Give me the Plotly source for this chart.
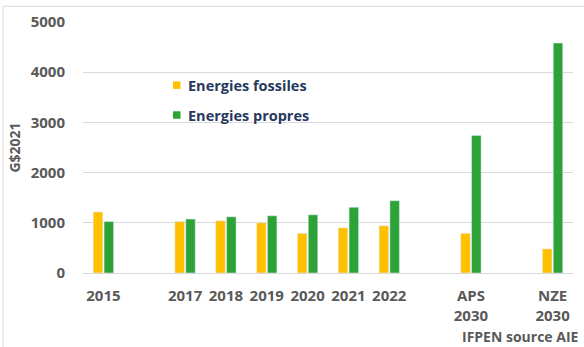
import plotly.graph_objects as go

# Investment in energy, billions of 2021 dollars
categories = ["2015", "2017", "2018", "2019", "2020", "2021", "2022", "APS 2030", "NZE 2030"]
tick_labels = ["2015", "2017", "2018", "2019", "2020", "2021", "2022", "APS<br>2030", "NZE<br>2030"]
fossiles = [1215, 1025, 1040, 1000, 790, 900, 940, 790, 480]
propres = [1025, 1075, 1120, 1140, 1160, 1310, 1440, 2740, 4580]
series_names = ["Energies fossiles", "Energies propres"]

# category order with empty slots between the periods
axis_order = ["2015", "gap_a", "2017", "2018", "2019", "2020", "2021", "2022",
              "gap_b", "APS 2030", "gap_c", "NZE 2030"]

YELLOW = "#FFC000"
GREEN = "#2DA337"
GRID = "#D9D9D9"
TXT = "#595959"
NAVY = "#26395E"
FONT = "Open Sans"

W, H = 584, 347
ML, MR, MT, MB = 83, 11, 18, 74
PW, PH = W - ML - MR, H - MT - MB


def px_x(px):
    """pixel column -> paper x"""
    return (px - ML) / PW


def px_y(py):
    """pixel row -> paper y"""
    return (H - MB - py) / PH


fig = go.Figure()
fig.add_trace(go.Bar(x=categories, y=fossiles, name=series_names[0],
                     marker_color=YELLOW, showlegend=False))
fig.add_trace(go.Bar(x=categories, y=propres, name=series_names[1],
                     marker_color=GREEN, showlegend=False))

fig.update_layout(
    width=W, height=H,
    margin=dict(l=ML, r=MR, t=MT, b=MB),
    paper_bgcolor="white", plot_bgcolor="white",
    barmode="group", bargap=0.47, bargroupgap=0.12,
    font=dict(family=FONT, color=TXT, size=15),
)

fig.update_xaxes(
    type="category", categoryorder="array", categoryarray=axis_order,
    tickvals=categories, ticktext=tick_labels,
    showgrid=False, showline=False, zeroline=False,
    ticks="outside", ticklen=9, tickcolor="rgba(0,0,0,0)",
    tickfont=dict(family=FONT, color=TXT, size=15, weight="bold"),
)
fig.update_yaxes(
    range=[0, 5000], tickvals=[0, 1000, 2000, 3000, 4000, 5000],
    showgrid=True, gridcolor=GRID, gridwidth=1,
    zeroline=True, zerolinecolor=GRID, zerolinewidth=1,
    showline=False,
    ticks="outside", ticklen=14, tickcolor="rgba(0,0,0,0)",
    tickfont=dict(family=FONT, color=TXT, size=15, weight="bold"),
    title=dict(text="G$2021", standoff=6,
               font=dict(family=FONT, color=TXT, size=14, weight="bold")),
)

# legend: coloured squares with series names
legend_rows = [(82.2, YELLOW), (112.5, GREEN)]
for name, (row, color) in zip(series_names, legend_rows):
    fig.add_shape(type="rect", xref="paper", yref="paper",
                  x0=px_x(173), x1=px_x(180.5), y0=px_y(row + 3.8), y1=px_y(row - 3.8),
                  line=dict(width=0), fillcolor=color)
    fig.add_annotation(text=name, xref="paper", yref="paper",
                       x=px_x(186), y=px_y(row), xanchor="left", yanchor="middle",
                       showarrow=False,
                       font=dict(family=FONT, color=NAVY, size=14.5, weight="bold"))

fig.add_annotation(text="IFPEN source AIE", xref="paper", yref="paper",
                   x=px_x(460), y=px_y(338), xanchor="left", yanchor="middle",
                   showarrow=False,
                   font=dict(family=FONT, color=TXT, size=14, weight="bold"))

# light frame around the chart area
fig.add_shape(type="rect", xref="paper", yref="paper",
              x0=px_x(3), x1=px_x(W + 10), y0=px_y(H + 10), y1=px_y(2),
              line=dict(color="#D9D9D9", width=1), fillcolor="rgba(0,0,0,0)")

fig.write_html("out.html")
